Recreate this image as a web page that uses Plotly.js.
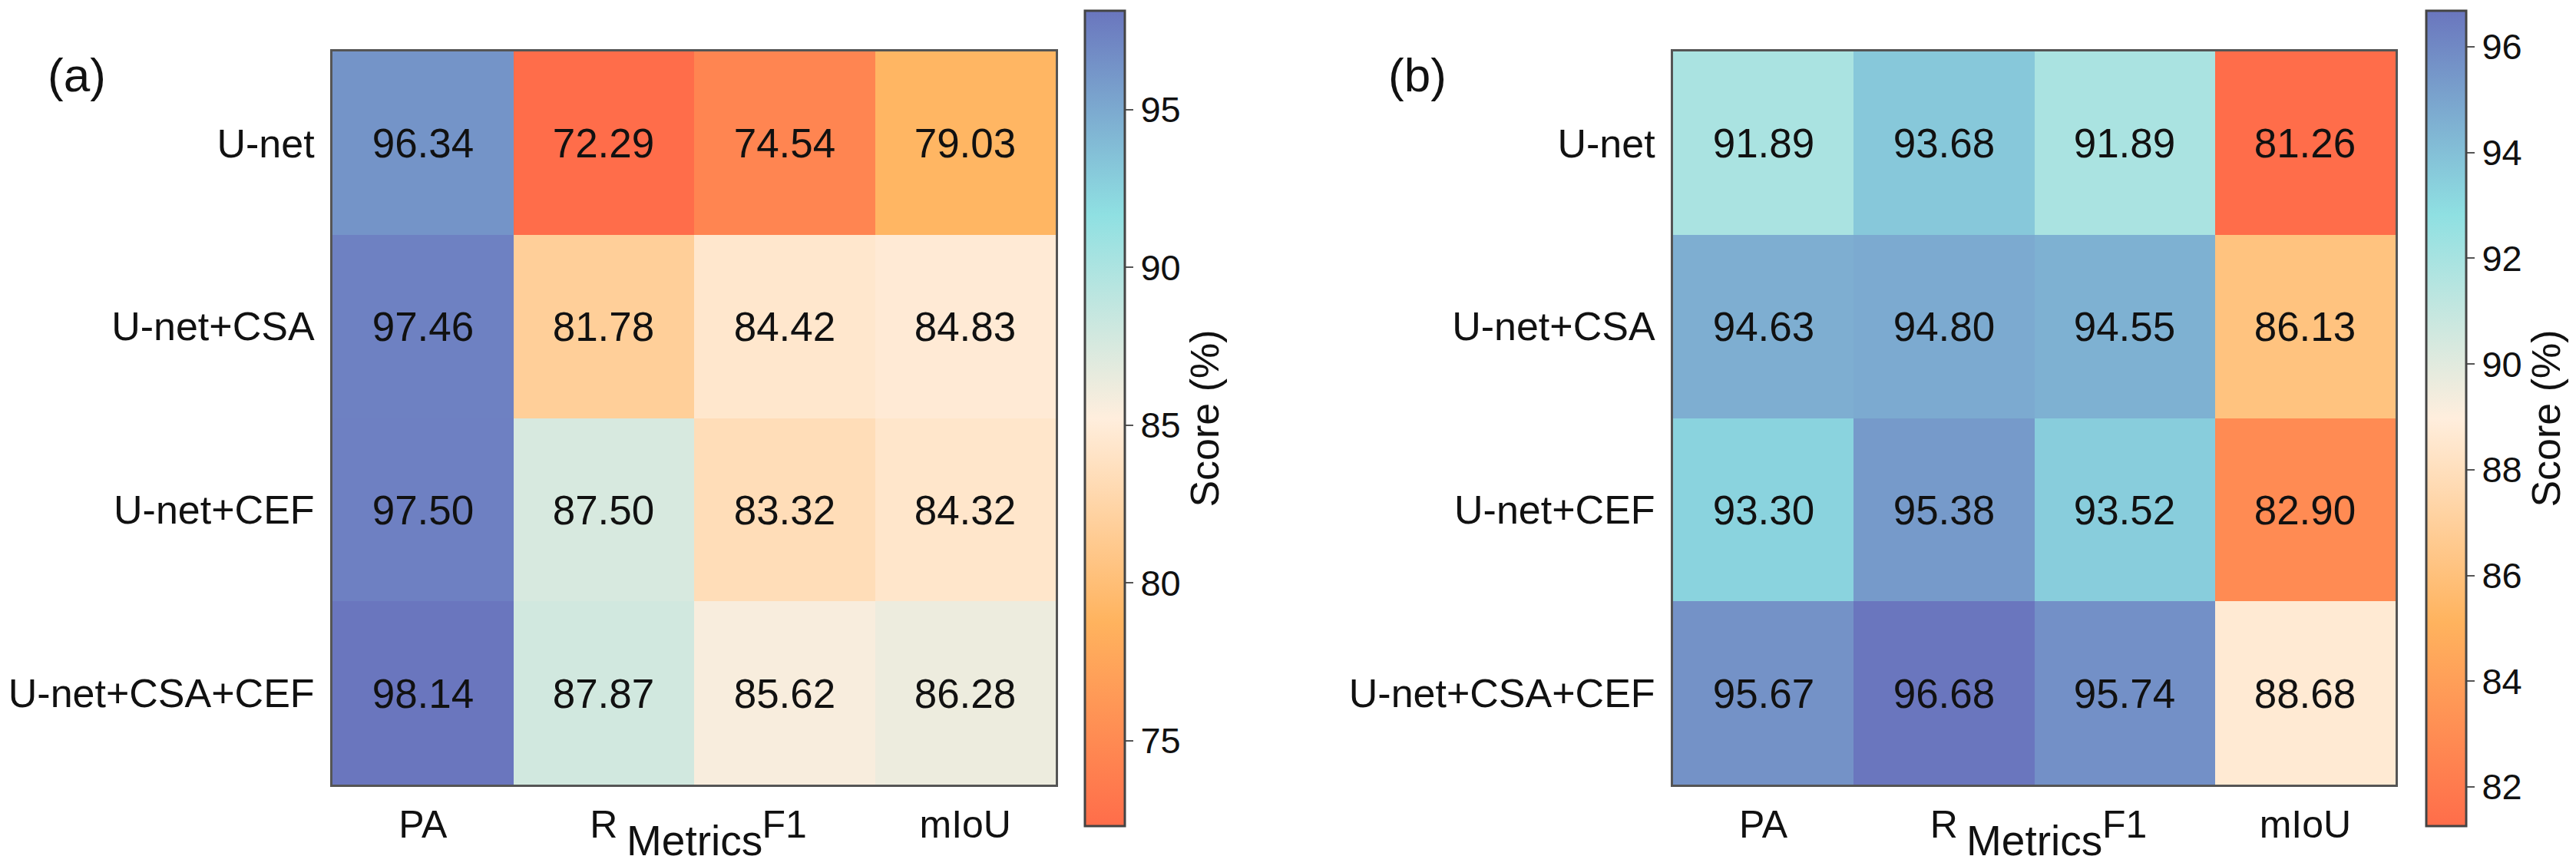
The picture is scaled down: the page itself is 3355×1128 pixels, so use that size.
<!DOCTYPE html>
<html>
<head>
<meta charset="utf-8">
<script src="https://cdn.plot.ly/plotly-3.0.1.min.js"></script>
<style>html,body{margin:0;padding:0;background:#fff;}#chart{width:3355px;height:1128px;}</style>
</head>
<body>
<div id="chart"></div>
<script>
// ---- data ----
const metrics = ['PA', 'R', 'F1', 'mIoU'];
const models = ['U-net', 'U-net+CSA', 'U-net+CEF', 'U-net+CSA+CEF'];
const scoresA = [
  [96.34, 72.29, 74.54, 79.03],
  [97.46, 81.78, 84.42, 84.83],
  [97.50, 87.50, 83.32, 84.32],
  [98.14, 87.87, 85.62, 86.28]
];
const scoresB = [
  [91.89, 93.68, 91.89, 81.26],
  [94.63, 94.80, 94.55, 86.13],
  [93.30, 95.38, 93.52, 82.90],
  [95.67, 96.68, 95.74, 88.68]
];
const panelLabels = ['(a)', '(b)'];
const colorbarTitle = 'Score (%)';
const xTitle = 'Metrics';

// ---- style ----
const W = 3355, H = 1128;
const colorscale = [
  [0.00, '#FF6D4A'],
  [0.25, '#FFB35E'],
  [0.50, '#FFEEDD'],
  [0.75, '#8FE0E2'],
  [1.00, '#6A76BE']
];
const labelFont = 'Liberation Sans Narrow, Liberation Sans, Arial, sans-serif';
const numFont = 'Liberation Sans, Arial, sans-serif';
const px = v => v / W;
const py = v => 1 - v / H;

function heat(z, xa, ya, cbx, dtick) {
  return {
    type: 'heatmap',
    z: z, x: metrics, y: models,
    xaxis: xa, yaxis: ya,
    colorscale: colorscale,
    texttemplate: '%{z:.2f}',
    textfont: {family: numFont, size: 53, color: '#111'},
    hoverinfo: 'skip',
    xgap: 0, ygap: 0,
    colorbar: {
      x: px(cbx), xanchor: 'left', xpad: 0,
      y: py(545), yanchor: 'middle', ypad: 0,
      len: 1062, lenmode: 'pixels',
      thickness: 52, thicknessmode: 'pixels',
      outlinecolor: '#444', outlinewidth: 3,
      ticks: 'outside', ticklen: 10, tickwidth: 2, tickcolor: '#555',
      dtick: dtick, tick0: 0,
      tickfont: {family: numFont, size: 47, color: '#111'},
      title: {text: colorbarTitle, side: 'right', font: {family: numFont, size: 52, color: '#111'}}
    }
  };
}

const axisCommon = {
  showgrid: false, zeroline: false, showline: true, mirror: true,
  linecolor: '#555', linewidth: 3, ticks: '', ticklen: 0
};

const data = [
  heat(scoresA, 'x', 'y', 1413, 5),
  heat(scoresB, 'x2', 'y2', 3160, 2)
];

const xaxisBase = (dom) => Object.assign({}, axisCommon, {
  domain: dom, type: 'category',
  tickfont: {family: labelFont, size: 50, color: '#111'},
  ticklabelstandoff: 6
});
const yaxisBase = (anchor) => Object.assign({}, axisCommon, {
  domain: [py(1022), py(67)], type: 'category', autorange: 'reversed', anchor: anchor,
  tickfont: {family: numFont, size: 52, color: '#111'},
  ticklabelstandoff: 10
});

const xDomA = [px(433), px(1375)];
const xDomB = [px(2179), px(3120)];
const mid = d => (d[0] + d[1]) / 2;

const layout = {
  width: W, height: H,
  margin: {l: 0, r: 0, t: 0, b: 0, pad: 0},
  paper_bgcolor: '#fff', plot_bgcolor: '#fff',
  xaxis: Object.assign(xaxisBase(xDomA), {anchor: 'y'}),
  yaxis: yaxisBase('x'),
  xaxis2: Object.assign(xaxisBase(xDomB), {anchor: 'y2'}),
  yaxis2: yaxisBase('x2'),
  annotations: [
    {text: panelLabels[0], x: px(100), y: py(98), xref: 'paper', yref: 'paper', showarrow: false,
     xanchor: 'center', yanchor: 'middle', font: {family: numFont, size: 62, color: '#111'}},
    {text: panelLabels[1], x: px(1846), y: py(98), xref: 'paper', yref: 'paper', showarrow: false,
     xanchor: 'center', yanchor: 'middle', font: {family: numFont, size: 62, color: '#111'}},
    {text: xTitle, x: mid(xDomA), y: 0, xref: 'paper', yref: 'paper', showarrow: false,
     xanchor: 'center', yanchor: 'bottom', font: {family: labelFont, size: 55, color: '#111'}},
    {text: xTitle, x: mid(xDomB), y: 0, xref: 'paper', yref: 'paper', showarrow: false,
     xanchor: 'center', yanchor: 'bottom', font: {family: labelFont, size: 55, color: '#111'}}
  ]
};

Plotly.newPlot('chart', data, layout, {displayModeBar: false, staticPlot: true});
</script>
</body>
</html>
